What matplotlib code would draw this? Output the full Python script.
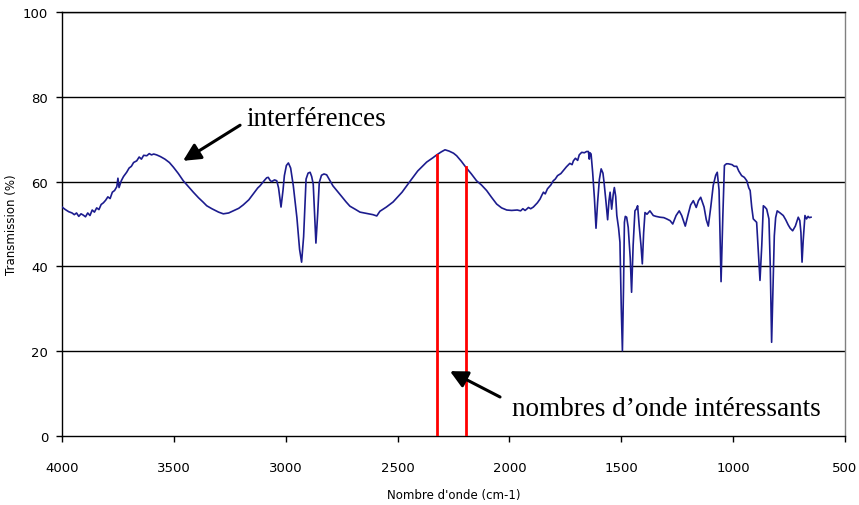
import matplotlib
matplotlib.use("Agg")
import matplotlib.pyplot as plt

# ---- data ----
wavenumber = [4000, 3985, 3970, 3955, 3945, 3935, 3925, 3915, 3905, 3895, 3885, 3875, 3865, 3855,
              3845, 3835, 3825, 3815, 3805, 3795, 3785, 3775, 3765, 3755, 3750, 3745, 3735, 3725,
              3711, 3700, 3690, 3680, 3666, 3655, 3645, 3635, 3621, 3610, 3600, 3590, 3577, 3560,
              3540, 3520, 3502, 3480, 3458, 3435, 3413, 3390, 3370, 3353, 3330, 3300, 3279, 3255,
              3234, 3210, 3190, 3165, 3145, 3125, 3115, 3095, 3085, 3078, 3070, 3063, 3050, 3040,
              3032, 3021, 3012, 3006, 2997, 2988, 2978, 2966, 2950, 2938, 2929, 2920, 2909, 2900,
              2891, 2884, 2877, 2865, 2857, 2850, 2840, 2829, 2817, 2805, 2789, 2770, 2750, 2730,
              2713, 2690, 2668, 2640, 2610, 2593, 2579, 2550, 2520, 2480, 2444, 2410, 2370, 2340,
              2325, 2305, 2288, 2270, 2250, 2236, 2215, 2195, 2170, 2147, 2125, 2102, 2080, 2057,
              2035, 2012, 1990, 1965, 1950, 1940, 1930, 1923, 1915, 1905, 1893, 1875, 1863, 1855,
              1848, 1840, 1830, 1815, 1804, 1795, 1785, 1770, 1759, 1745, 1730, 1720, 1714, 1705,
              1695, 1688, 1677, 1665, 1655, 1647, 1643, 1640, 1635, 1628, 1620, 1613, 1606, 1598,
              1590, 1582, 1577, 1568, 1561, 1555, 1550, 1543, 1536, 1531, 1525, 1520, 1512, 1506,
              1500, 1495, 1490, 1486, 1482, 1476, 1469, 1460, 1454, 1447, 1439, 1432, 1427, 1420,
              1412, 1406, 1400, 1394, 1385, 1372, 1357, 1345, 1327, 1310, 1297, 1282, 1270, 1255,
              1241, 1230, 1214, 1200, 1190, 1178, 1165, 1155, 1145, 1130, 1120, 1111, 1100, 1089,
              1078, 1071, 1063, 1054, 1046, 1039, 1030, 1022, 1005, 995, 984, 975, 962, 950,
              939, 930, 924, 917, 910, 895, 888, 880, 872, 865, 858, 850, 840, 834,
              828, 822, 816, 810, 803, 790, 776, 765, 754, 745, 734, 722, 709, 702,
              697, 692, 687, 679, 672, 665, 660, 652]
transmission = [54.0, 53.4, 52.9, 52.6, 52.2, 52.6, 51.8, 52.4, 52.1, 51.7, 52.6, 52.0, 53.3, 52.8,
                53.8, 53.4, 54.6, 55.0, 55.6, 56.4, 56.0, 57.5, 57.9, 58.8, 60.8, 58.6, 60.2, 61.2,
                62.2, 63.2, 63.6, 64.5, 64.9, 65.8, 65.3, 66.2, 66.1, 66.6, 66.3, 66.5, 66.3, 65.9,
                65.3, 64.5, 63.4, 61.9, 60.2, 58.8, 57.5, 56.2, 55.2, 54.3, 53.6, 52.8, 52.4, 52.6,
                53.1, 53.7, 54.5, 55.7, 57.1, 58.5, 59.0, 60.3, 60.9, 61.0, 60.3, 60.0, 60.4, 60.2,
                58.5, 54.0, 58.0, 61.4, 63.8, 64.4, 63.2, 59.0, 51.5, 44.0, 41.0, 47.0, 60.6, 62.0,
                62.2, 61.2, 59.4, 45.5, 52.5, 59.8, 61.5, 61.8, 61.6, 60.5, 59.0, 57.8, 56.5, 55.2,
                54.2, 53.5, 52.8, 52.5, 52.2, 51.9, 53.0, 54.0, 55.2, 57.5, 60.1, 62.5, 64.6, 65.7,
                66.3, 67.0, 67.5, 67.2, 66.7, 66.1, 64.8, 63.4, 61.8, 60.2, 59.2, 57.9, 56.3, 54.7,
                53.8, 53.3, 53.2, 53.3, 53.1, 53.6, 53.2, 53.5, 53.9, 53.6, 54.0, 55.0, 55.9, 56.8,
                57.5, 57.1, 58.3, 59.2, 60.2, 60.6, 61.4, 61.9, 62.6, 63.5, 64.3, 64.0, 64.9, 65.5,
                65.0, 66.3, 66.9, 66.8, 67.1, 67.1, 65.3, 66.8, 66.5, 62.2, 56.0, 49.0, 55.0, 60.5,
                63.0, 62.0, 59.8, 55.0, 51.0, 55.5, 57.5, 53.5, 57.0, 58.6, 56.5, 52.0, 49.0, 45.7,
                30.0, 20.1, 35.0, 50.4, 51.8, 51.6, 49.2, 42.0, 33.9, 45.0, 53.1, 53.6, 54.3, 49.6,
                45.0, 40.6, 48.0, 52.7, 52.3, 53.1, 52.0, 51.8, 51.6, 51.5, 51.2, 50.8, 50.0, 52.0,
                53.1, 52.0, 49.5, 52.5, 54.5, 55.5, 53.9, 55.5, 56.3, 54.0, 51.0, 49.5, 54.0, 59.1,
                61.5, 62.2, 58.0, 36.4, 52.0, 63.8, 64.2, 64.2, 64.0, 63.6, 63.6, 62.5, 61.4, 61.0,
                60.2, 58.5, 57.9, 54.0, 51.2, 50.4, 44.0, 36.7, 45.0, 54.3, 54.0, 53.5, 51.2, 40.0,
                22.1, 35.0, 47.2, 51.5, 53.1, 52.6, 52.0, 51.0, 49.8, 49.0, 48.4, 49.5, 51.6, 50.8,
                48.0, 41.0, 46.0, 52.0, 51.2, 51.8, 51.5, 51.6]

# red markers: wavenumbers of interest and curve height at those points
marker_wn = [2325, 2195]
marker_top = [66.3, 63.4]

x_ticks = [4000, 3500, 3000, 2500, 2000, 1500, 1000, 500]
y_ticks = [0, 20, 40, 60, 80, 100]

x_label = "Nombre d'onde (cm-1)"
y_label = "Transmission (%)"
note_interf = "interférences"
note_wn = "nombres d’onde intéressants"

# ---- figure ----
fig = plt.figure(figsize=(8.59, 5.06), dpi=100)
ax = fig.add_axes([62 / 859, 69 / 506, 783 / 859, 424 / 506])

for yv in y_ticks[1:]:
    ax.axhline(yv, color="black", lw=1.0, zorder=1)

ax.plot(wavenumber, transmission, color="#1c1c8e", lw=1.2, zorder=3)

for w, t in zip(marker_wn, marker_top):
    ax.plot([w, w], [0, t], color="#ff0000", lw=2.0, zorder=4)

ax.set_xlim(4000, 500)
ax.set_ylim(0, 100)
ax.set_xticks(x_ticks)
ax.set_yticks(y_ticks)
ax.set_xticklabels([str(v) for v in x_ticks])
ax.set_yticklabels([str(v) for v in y_ticks])
ax.tick_params(axis="x", direction="out", length=4, width=1, pad=14, labelsize=9.5)
ax.tick_params(axis="y", direction="out", length=4, width=1, pad=6, labelsize=9.5)

for s in ["left", "bottom", "top"]:
    ax.spines[s].set_color("black")
    ax.spines[s].set_linewidth(1.0)
ax.spines["right"].set_color("#808080")
ax.spines["right"].set_linewidth(1.0)

ax.set_xlabel(x_label, fontsize=8.5, labelpad=10)
ax.set_ylabel(y_label, fontsize=8.5)
ax.yaxis.set_label_coords(-0.056, 0.5)

serif = ["Liberation Serif", "DejaVu Serif"]
ax.annotate("", xy=(3459, 64.9), xytext=(3204, 73.3),
            arrowprops=dict(arrowstyle="-|>", lw=2.2, color="black", mutation_scale=26,
                            shrinkA=0, shrinkB=0), zorder=5)
ax.text(3177, 74.8, note_interf, family=serif, fontsize=19.5, va="center", ha="left")

ax.annotate("", xy=(2266, 15.3), xytext=(2042, 9.2),
            arrowprops=dict(arrowstyle="-|>", lw=2.2, color="black", mutation_scale=26,
                            shrinkA=0, shrinkB=0), zorder=5)
ax.text(1988, 6.4, note_wn, family=serif, fontsize=19.5, va="center", ha="left")

fig.savefig("out.png", dpi=100)
